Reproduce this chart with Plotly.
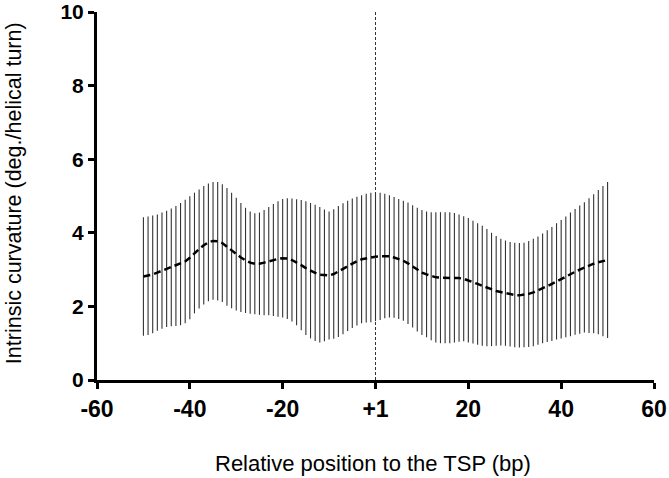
import plotly.graph_objects as go

position = list(range(-50, 51))
mean_curvature = [
    2.81, 2.83, 2.87, 2.92, 2.97, 3.02, 3.06, 3.10, 3.15, 3.22,
    3.32, 3.45, 3.56, 3.66, 3.74, 3.78, 3.77, 3.72, 3.62, 3.52,
    3.42, 3.33, 3.25, 3.19, 3.16, 3.16, 3.19, 3.23, 3.26, 3.29,
    3.31, 3.30, 3.26, 3.20, 3.12, 3.04, 2.97, 2.91, 2.86, 2.84,
    2.84, 2.88, 2.95, 3.02, 3.10, 3.17, 3.23, 3.28, 3.31, 3.33,
    3.35, 3.36, 3.37, 3.36, 3.33, 3.29, 3.24, 3.17, 3.09, 3.00,
    2.92, 2.87, 2.82, 2.79, 2.78, 2.78, 2.78, 2.78, 2.77, 2.75,
    2.71, 2.66, 2.61, 2.56, 2.51, 2.46, 2.42, 2.39, 2.36, 2.33,
    2.31, 2.30, 2.31, 2.34, 2.38, 2.43, 2.49, 2.55, 2.61, 2.68,
    2.74, 2.80, 2.87, 2.94, 3.00, 3.06, 3.11, 3.16, 3.20, 3.23,
    3.26,
]
upper_bound = [
    4.42, 4.44, 4.47, 4.50, 4.55, 4.60, 4.66, 4.73, 4.81, 4.90,
    4.99, 5.09, 5.18, 5.27, 5.34, 5.38, 5.38, 5.32, 5.22, 5.09,
    4.95, 4.81, 4.68, 4.58, 4.53, 4.55, 4.62, 4.70, 4.78, 4.86,
    4.92, 4.94, 4.93, 4.91, 4.89, 4.86, 4.81, 4.76, 4.70, 4.63,
    4.58, 4.64, 4.73, 4.80, 4.87, 4.93, 4.98, 5.02, 5.06, 5.09,
    5.10, 5.09, 5.06, 5.02, 4.97, 4.92, 4.87, 4.82, 4.75, 4.68,
    4.62, 4.58, 4.56, 4.56, 4.56, 4.56, 4.56, 4.54, 4.50, 4.45,
    4.40, 4.33, 4.26, 4.19, 4.10, 4.00, 3.91, 3.84, 3.79, 3.75,
    3.73, 3.72, 3.73, 3.78, 3.84, 3.90, 3.98, 4.07, 4.16, 4.26,
    4.35, 4.44, 4.55, 4.65, 4.74, 4.83, 4.94, 5.05, 5.16, 5.27,
    5.38,
]
sd = [round(u - m, 2) for u, m in zip(upper_bound, mean_curvature)]

x_tick_vals = [-60, -40, -20, 0, 20, 40, 60]
x_tick_text = ["-60", "-40", "-20", "+1", "20", "40", "60"]
y_tick_vals = [0, 2, 4, 6, 8, 10]

fig = go.Figure()
fig.add_trace(go.Scatter(
    x=position, y=mean_curvature, mode="lines",
    line=dict(color="black", width=2.5, dash="7px,4px"),
    error_y=dict(type="data", array=sd, visible=True, width=0,
                 thickness=1.1, color="#333333"),
    showlegend=False,
))

fig.add_shape(type="line", x0=0, x1=0, y0=0, y1=10, xref="x", yref="y",
              line=dict(color="#333333", width=1, dash="3px,2px"))

font_family = "Liberation Sans, Arial, sans-serif"

fig.add_annotation(text="Relative position to the TSP (bp)", xref="paper", yref="paper",
                   x=0.496, y=-0.226, xanchor="center", yanchor="middle",
                   showarrow=False, font=dict(size=22, family=font_family, color="black"))
fig.add_annotation(text="Intrinsic curvature (deg./helical turn)", xref="paper", yref="paper",
                   x=-0.150, y=0.509, xanchor="center", yanchor="middle", textangle=-90,
                   showarrow=False, font=dict(size=21.5, family=font_family, color="black"))

fig.update_layout(
    width=669, height=478,
    margin=dict(l=97, r=15, t=12, b=98, autoexpand=False),
    paper_bgcolor="white", plot_bgcolor="white",
    font=dict(family=font_family, color="black"),
    xaxis=dict(
        range=[-60, 60], tickmode="array", tickvals=x_tick_vals, ticktext=x_tick_text,
        showline=True, linewidth=3, linecolor="black", mirror=False,
        ticks="outside", ticklen=6, tickwidth=3, tickcolor="black",
        showgrid=False, zeroline=False, automargin=False,
        tickfont=dict(size=23, family=font_family, weight="bold"),
    ),
    yaxis=dict(
        range=[0, 10], tickmode="array", tickvals=y_tick_vals,
        showline=True, linewidth=3, linecolor="black",
        ticks="outside", ticklen=6, tickwidth=3, tickcolor="black",
        showgrid=False, zeroline=False, automargin=False,
        tickfont=dict(size=21, family=font_family, weight="bold"),
    ),
)

fig.write_html("out.html", config={"displayModeBar": False},
               post_script="document.body.style.margin='0';document.body.style.padding='0';")
